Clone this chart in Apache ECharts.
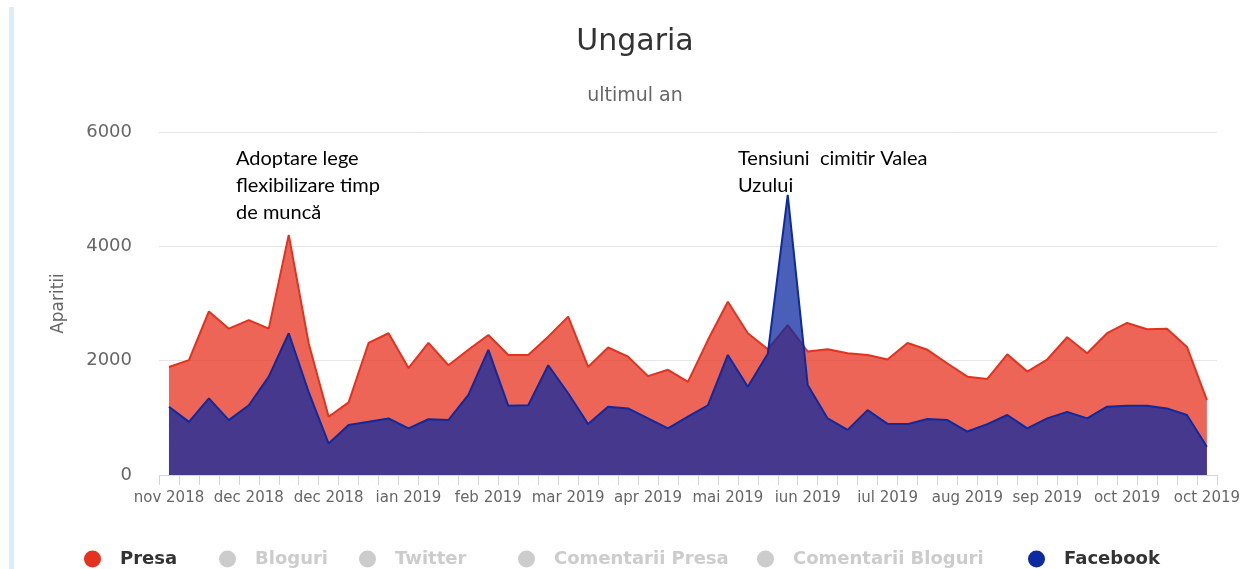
<!DOCTYPE html>
<html><head><meta charset="utf-8">
<script src="https://cdn.jsdelivr.net/npm/echarts@6/dist/echarts.min.js"></script>
<style>html,body{margin:0;padding:0;background:#fff}#c{width:1243px;height:569px}</style>
</head><body><div id="c"></div>
<script>
const weeks = [
  'nov 2018','nov 2018','nov 2018','nov 2018',
  'dec 2018','dec 2018','dec 2018','dec 2018','dec 2018',
  'ian 2019','ian 2019','ian 2019','ian 2019',
  'feb 2019','feb 2019','feb 2019','feb 2019',
  'mar 2019','mar 2019','mar 2019','mar 2019',
  'apr 2019','apr 2019','apr 2019','apr 2019','apr 2019',
  'mai 2019','mai 2019','mai 2019','mai 2019',
  'iun 2019','iun 2019','iun 2019','iun 2019',
  'iul 2019','iul 2019','iul 2019','iul 2019','iul 2019',
  'aug 2019','aug 2019','aug 2019','aug 2019',
  'sep 2019','sep 2019','sep 2019','sep 2019','sep 2019',
  'oct 2019','oct 2019','oct 2019','oct 2019','oct 2019'
];
const presa = [1890, 2010, 2860, 2560, 2710, 2560, 4200, 2300, 1020, 1270, 2310, 2480, 1870, 2310, 1920, 2190, 2450, 2100, 2100, 2420, 2770, 1890, 2230, 2070, 1730, 1840, 1630, 2360, 3030, 2480, 2200, 2620, 2160, 2200, 2130, 2100, 2020, 2310, 2190, 1950, 1720, 1680, 2110, 1810, 2020, 2410, 2130, 2480, 2660, 2550, 2560, 2240, 1310];
const facebook = [1195, 930, 1340, 960, 1220, 1720, 2480, 1450, 550, 875, 930, 990, 815, 975, 960, 1400, 2190, 1210, 1220, 1920, 1430, 890, 1195, 1165, 990, 815, 1020, 1220, 2100, 1545, 2120, 4900, 1575, 990, 790, 1135, 895, 890, 980, 960, 760, 890, 1050, 815, 990, 1105, 990, 1195, 1210, 1210, 1165, 1050, 495];
const seriesNames = ['Presa', 'Bloguri', 'Twitter', 'Comentarii Presa', 'Comentarii Bloguri', 'Facebook'];
const hiddenNames = ['Bloguri', 'Twitter', 'Comentarii Presa', 'Comentarii Bloguri'];
const legendLeft = [79, 214, 354, 513, 752, 1023];
const annotations = [
  {text: 'Adoptare lege\nflexibilizare timp\nde muncă', left: 236},
  {text: 'Tensiuni  cimitir Valea\nUzului', left: 738}
];
const yMin = 0, yMax = 6000, yStep = 2000;

const RED = '#e5311d', BLUE = '#0d2aa0';
const FONT = 'DejaVu Sans';
const chart = echarts.init(document.getElementById('c'), null, {renderer: 'canvas'});

const colorOf = {Presa: RED, Facebook: BLUE};
const series = seriesNames.map(name => {
  if (name === 'Presa' || name === 'Facebook') {
    const c = colorOf[name];
    return {
      name, type: 'line', data: name === 'Presa' ? presa : facebook,
      symbol: 'none', smooth: false,
      lineStyle: {color: c, width: 2},
      itemStyle: {color: c},
      areaStyle: {color: c, opacity: 0.75},
      z: name === 'Presa' ? 2 : 3
    };
  }
  return {name, type: 'line', data: [], symbol: 'none', itemStyle: {color: '#ccc'}};
});

const legends = seriesNames.map((name, i) => {
  const sel = {};
  sel[name] = hiddenNames.indexOf(name) < 0;
  return {
    data: [name], left: legendLeft[i], top: 545, icon: 'circle',
    itemWidth: 17, itemHeight: 17, inactiveColor: '#cccccc',
    selected: sel,
    textStyle: {fontFamily: FONT, fontSize: 18, fontWeight: 'bold', color: '#333', padding: [0, 0, 0, 14]}
  };
});

chart.setOption({
  animation: false,
  backgroundColor: '#fff',
  title: {
    text: 'Ungaria', subtext: 'ultimul an',
    left: 630, top: 22, textAlign: 'center', itemGap: 30,
    textStyle: {fontFamily: FONT, fontSize: 30, fontWeight: 'normal', color: '#333'},
    subtextStyle: {fontFamily: FONT, fontSize: 19, color: '#666'}
  },
  legend: legends,
  grid: {left: 159, right: 24, top: 132, bottom: 94, containLabel: false},
  xAxis: {
    type: 'category', data: weeks, boundaryGap: true,
    axisLine: {lineStyle: {color: '#ccd6eb', width: 1}},
    axisTick: {show: true, interval: 0, length: 10, lineStyle: {color: '#ccd6eb'}},
    axisLabel: {interval: 3, color: '#666', fontFamily: FONT, fontSize: 15, margin: 16},
    splitLine: {show: false}
  },
  yAxis: {
    type: 'value', min: yMin, max: yMax, interval: yStep,
    name: 'Aparitii', nameLocation: 'middle', nameGap: 92,
    nameTextStyle: {fontFamily: FONT, fontSize: 17, color: '#666'},
    axisLine: {show: false}, axisTick: {show: false},
    axisLabel: {color: '#666', fontFamily: FONT, fontSize: 18, margin: 27, formatter: v => String(v)},
    splitLine: {lineStyle: {color: '#e6e6e6', width: 1}}
  },
  series,
  graphic: [
    {type: 'rect', left: 9, top: 7, shape: {width: 5, height: 562}, style: {fill: '#dcedf8'}, silent: true},
    ...annotations.map(a => ({
      type: 'text', left: a.left, top: 145, z: 100,
      style: {text: a.text, font: '20px Lato', lineHeight: 27, fill: '#000'}
    }))
  ]
});
</script></body></html>
